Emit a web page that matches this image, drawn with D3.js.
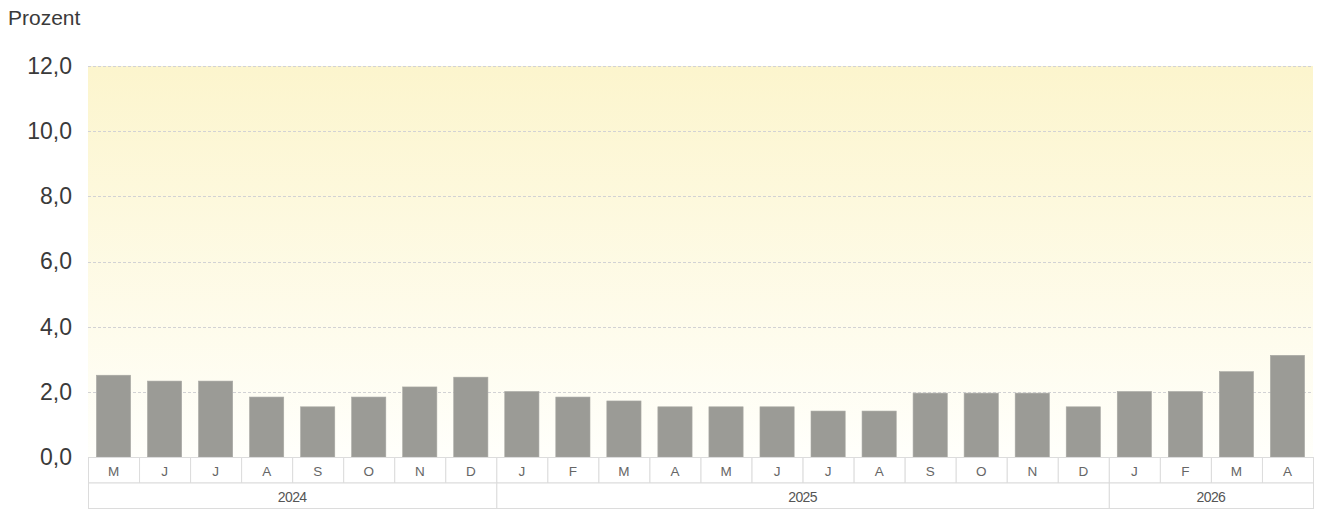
<!DOCTYPE html>
<html><head><meta charset="utf-8">
<script src="https://cdn.jsdelivr.net/npm/d3@7"></script>
<style>
html,body{margin:0;padding:0;background:#fff;}
svg{display:block;font-family:"Liberation Sans",Arial,sans-serif;}
</style></head>
<body>
<svg id="chart" width="1317" height="511"></svg>
<script>
const months = ["M","J","J","A","S","O","N","D","J","F","M","A","M","J","J","A","S","O","N","D","J","F","M","A"];
const years = ["2024","2025","2026"];
const yearSpans = [8, 12, 4];
const values = [2.51, 2.33, 2.33, 1.84, 1.54, 1.84, 2.15, 2.45,
                2.01, 1.84, 1.72, 1.54, 1.54, 1.54, 1.41, 1.41, 1.96, 1.96, 1.96, 1.54,
                2.01, 2.01, 2.62, 3.12];
const yTicks = [0, 2, 4, 6, 8, 10, 12];
const yLabel = "Prozent";

const svg = d3.select("#chart");
const L = 88, R = 1313, T = 66, B = 457;
const idx = d3.range(months.length);
const x = d3.scaleBand().domain(idx).range([L, R]).paddingInner(0.33).paddingOuter(0.165);
const y = d3.scaleLinear().domain([0, 12]).range([B, T]);
const fmt = v => d3.format(".1f")(v).replace(".", ",");

const defs = svg.append("defs");
const g = defs.append("linearGradient").attr("id","bg").attr("x1",0).attr("y1",0).attr("x2",0).attr("y2",1);
g.append("stop").attr("offset","0%").attr("stop-color","#fcf5cd");
g.append("stop").attr("offset","100%").attr("stop-color","#fffffb");

svg.append("rect").attr("x", L).attr("y", T).attr("width", R - L).attr("height", B - T).attr("fill", "url(#bg)");

// gridlines
svg.append("g").selectAll("line").data(yTicks.filter(d => d > 0)).join("line")
  .attr("x1", L).attr("x2", R)
  .attr("y1", d => Math.round(y(d)) + 0.5).attr("y2", d => Math.round(y(d)) + 0.5)
  .attr("stroke", "#d2d2d4").attr("stroke-dasharray", "3,2");

// y axis labels via d3 axis
const yAxis = d3.axisLeft(y).tickValues(yTicks).tickFormat(fmt).tickSize(0).tickPadding(0);
const ya = svg.append("g").attr("transform", `translate(72,0)`).call(yAxis);
ya.select(".domain").remove();
ya.selectAll("text").attr("font-size", "23px").attr("fill", "#3a3a3a").attr("font-family", "Liberation Sans, Arial, sans-serif");

svg.append("text").attr("x", 8).attr("y", 25).attr("font-size", "21px").attr("fill", "#3a3a3a").text(yLabel);

// bars
svg.append("g").selectAll("rect").data(values).join("rect")
  .attr("x", (d, i) => x(i)).attr("width", x.bandwidth())
  .attr("y", d => y(d)).attr("height", d => y(0) - y(d))
  .attr("fill", "#9b9b96").attr("stroke", "#a9a9a4").attr("stroke-width", 0.6);

// month cells
const step = x.step();
const rowH = 25.5;
const cells = svg.append("g");
cells.selectAll("rect").data(idx).join("rect")
  .attr("x", i => L + i * step + 0.5).attr("y", B + 0.5)
  .attr("width", step).attr("height", rowH)
  .attr("fill", "#fff").attr("stroke", "#dcdcdc");
cells.selectAll("text").data(months).join("text")
  .attr("x", (d, i) => L + i * step + step / 2).attr("y", B + 19)
  .attr("text-anchor", "middle").attr("font-size", "13.5px").attr("fill", "#666").text(d => d);

// year cells
let start = 0;
const yearData = years.map((yr, k) => { const o = {yr, s: start, n: yearSpans[k]}; start += yearSpans[k]; return o; });
const yg = svg.append("g");
yg.selectAll("rect").data(yearData).join("rect")
  .attr("x", d => L + d.s * step + 0.5).attr("y", B + rowH + 0.5)
  .attr("width", d => d.n * step).attr("height", rowH)
  .attr("fill", "#fff").attr("stroke", "#dcdcdc");
yg.selectAll("text").data(yearData).join("text")
  .attr("x", d => L + (d.s + d.n / 2) * step).attr("y", B + rowH + 19)
  .attr("text-anchor", "middle").attr("font-size", "14px").attr("letter-spacing", "-0.6px").attr("fill", "#555").text(d => d.yr);
</script>
</body></html>
